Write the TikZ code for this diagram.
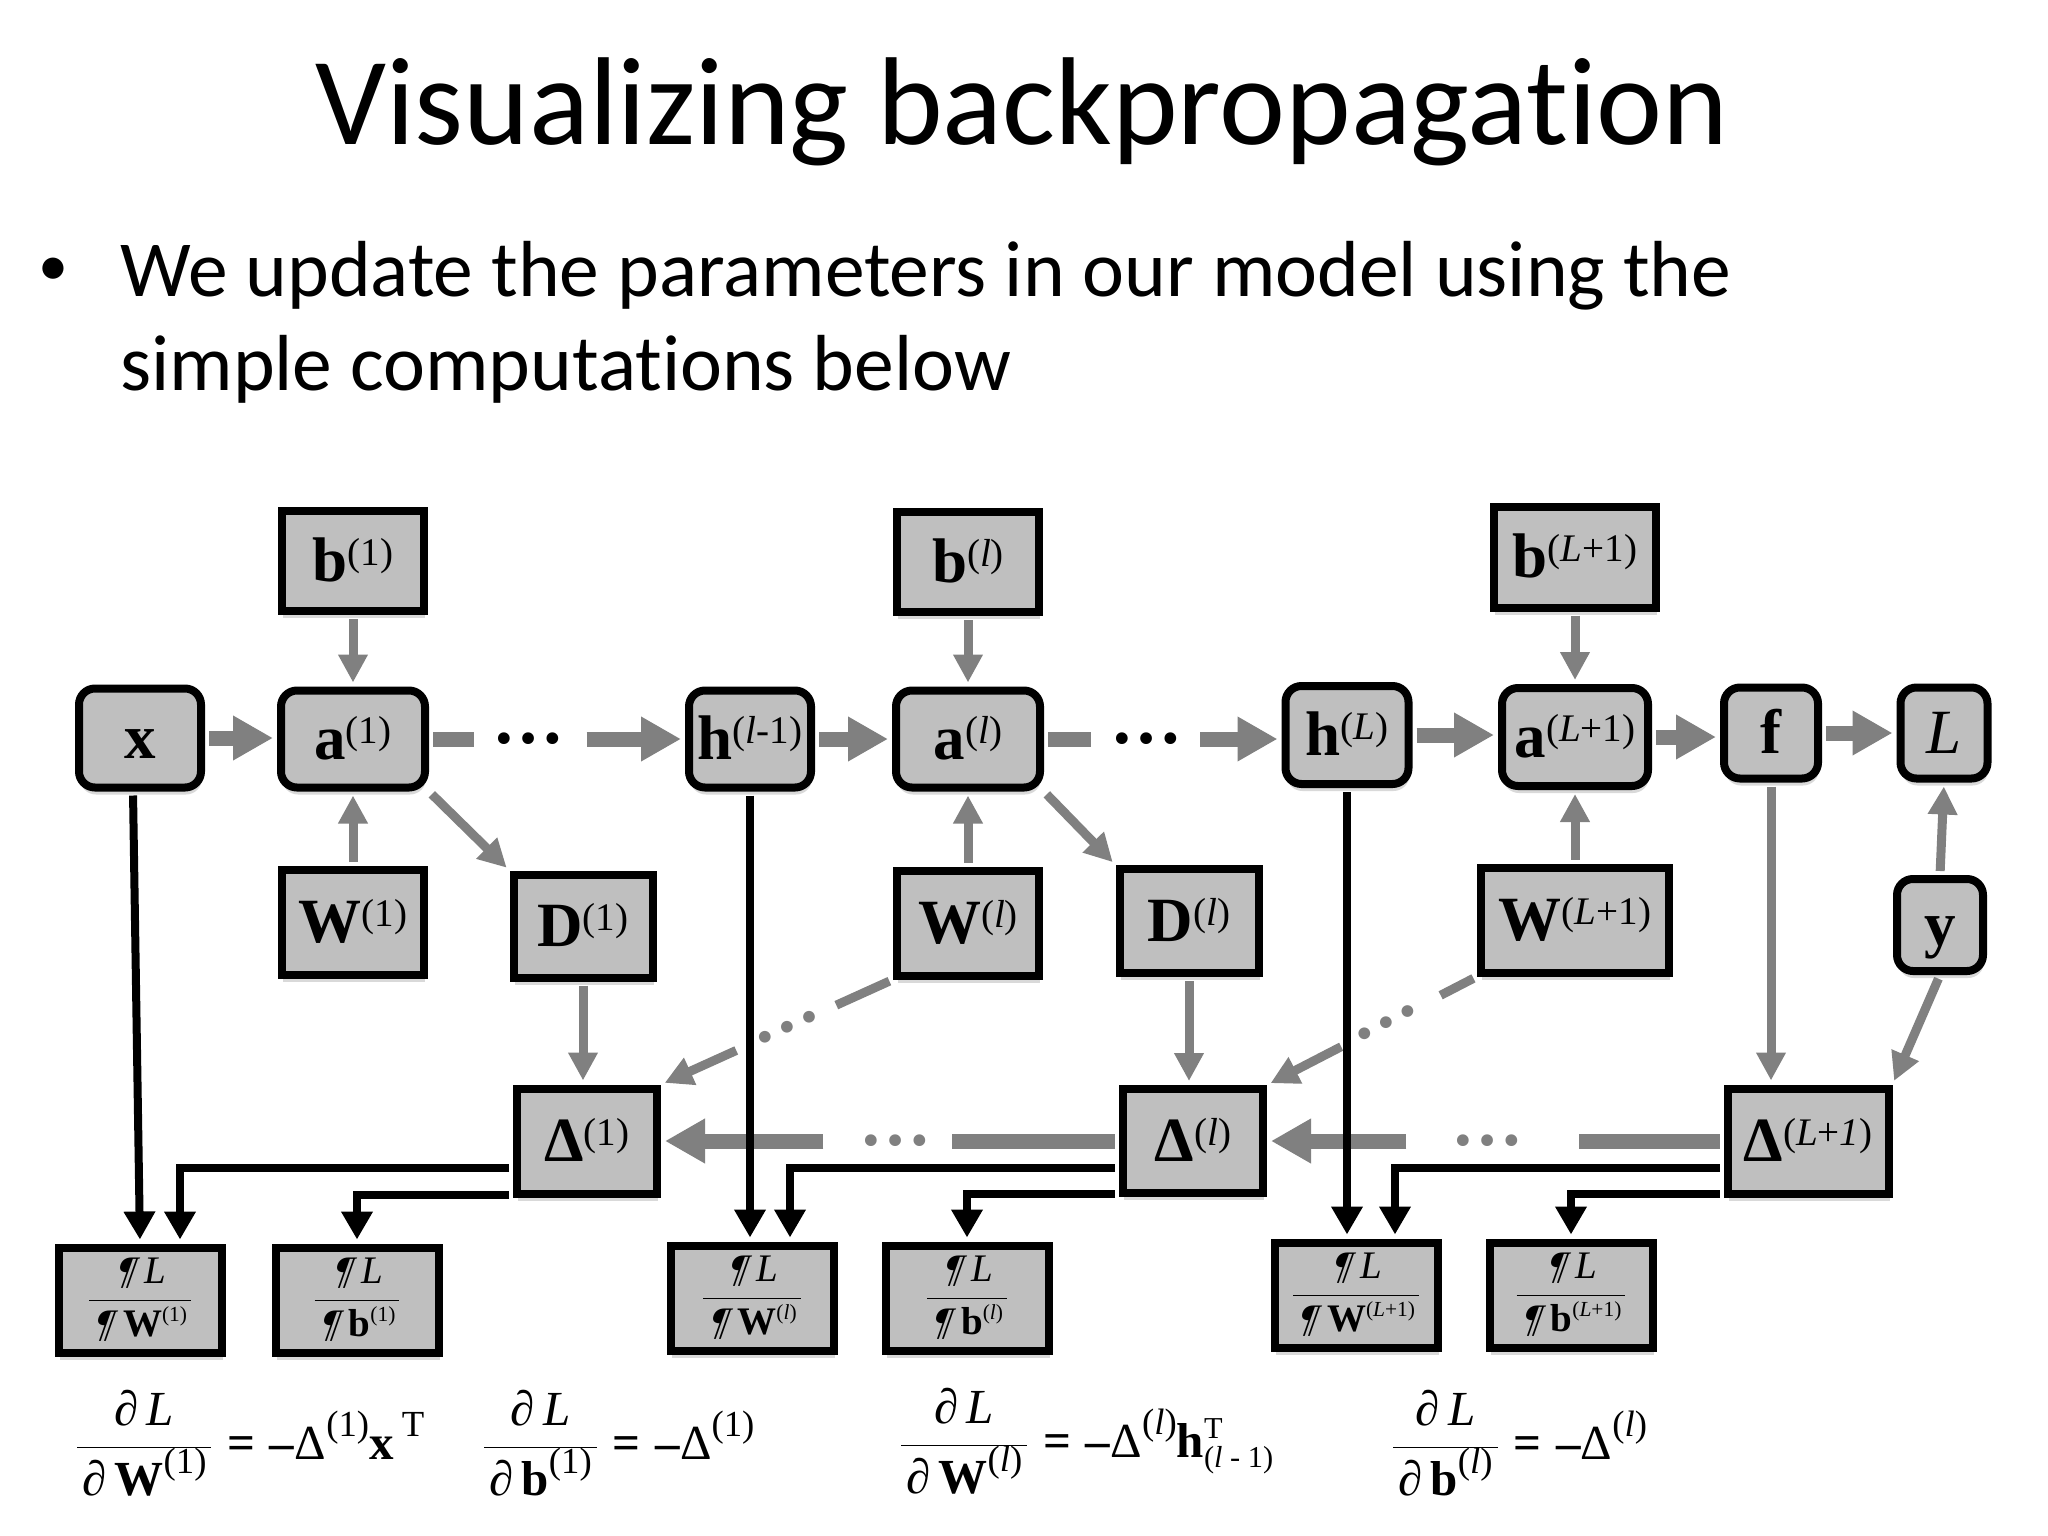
\RequirePackage{fix-cm}
\documentclass[tikz,border=0pt]{standalone}
\usepackage{fontspec}
\setmainfont{Liberation Serif}
\newfontfamily\calfont[Ligatures=NoCommon]{Carlito}
\newfontfamily\slpil[FakeSlant=0.35]{Liberation Serif}
\usetikzlibrary{arrows.meta,shadows,calc}
\definecolor{boxfill}{RGB}{191,191,191}
\definecolor{arrg}{RGB}{128,128,128}
\makeatletter
\newcommand\SupX[3]{\raisebox{#2em}{\fontsize{\strip@pt\dimexpr\f@size pt*#1/100\relax}{0}\selectfont\mdseries\upshape #3}}
\newcommand\SubSup[2]{\rlap{\raisebox{0.37em}{\fontsize{\strip@pt\dimexpr\f@size pt*62/100\relax}{0}\selectfont\mdseries\upshape #1}}\raisebox{-0.21em}{\fontsize{\strip@pt\dimexpr\f@size pt*62/100\relax}{0}\selectfont\mdseries\upshape #2}}
\makeatother
\newcommand\Ns[1]{\SupX{62}{0.25}{#1}}
\newcommand\Es[1]{\SupX{75}{0.45}{#1}}
\newcommand\Gs[1]{\SupX{55}{0.39}{#1}}
\newcommand\Fr[2]{$\displaystyle\frac{\mbox{\hspace{0.1em}#1\hspace{0.1em}}}{\mbox{\hspace{0.1em}#2\hspace{0.1em}}}$}
\newcommand\Pd{{\slpil ¶}\hspace{0.32em}}
\newcommand\lab{\fontsize{63}{63}\selectfont\bfseries}
\newcommand\gfont{\fontsize{39}{39}\selectfont}
\newcommand\efont{\fontsize{49}{49}\selectfont}
\begin{document}
\begin{tikzpicture}[x=1pt,y=-1pt,
 sq/.style={draw=black,line width=8pt,fill=boxfill,inner sep=0pt,font=\lab,text height=40pt,text depth=0pt,
   drop shadow={shadow xshift=1pt,shadow yshift=-7pt,opacity=0.15,fill=black}},
 rd/.style={sq,rounded corners=16pt},
 gr/.style={draw=black,line width=8pt,fill=boxfill,inner sep=0pt,font=\gfont,minimum width=163pt,minimum height=105pt,
   drop shadow={shadow xshift=1pt,shadow yshift=-7pt,opacity=0.15,fill=black}},
 fwd/.style={draw=arrg,line width=15pt,shorten <=4pt,shorten >=4pt},
 fwda/.style={fwd,-{Triangle[width=42pt,length=40pt]}},
 gline/.style={draw=arrg,line width=9pt,shorten <=4pt,shorten >=4pt},
 garr/.style={gline,-{Triangle[width=28pt,length=28pt]}},
 blk/.style={draw=black,line width=8pt,shorten <=4pt,shorten >=4pt,-{Triangle[width=30pt,length=28pt]}},
 bdots/.style={font=\bfseries\fontsize{72}{72}\selectfont,inner sep=0pt},
 gdots/.style={bdots,text=arrg}]
\useasboundingbox (0,0) rectangle (2048,1536);
\fill[white] (0,0) rectangle (2048,1536);

% text
\node[anchor=base,font=\calfont\fontsize{125}{125}\selectfont,inner sep=0pt] (title) at (1022,145) {Visualizing backpropagation};
\node[anchor=base,font=\calfont\fontsize{60}{60}\selectfont,inner sep=0pt] (bul) at (53,285) {•};
\node[anchor=base west,font=\calfont\fontsize{79.5}{79.5}\selectfont,inner sep=0pt] (t1) at (120,296) {We update the parameters in our model using the};
\node[anchor=base west,font=\calfont\fontsize{79.5}{79.5}\selectfont,inner sep=0pt] (t2) at (120,390) {simple computations below};

% nodes
\node[sq,minimum width=142pt,minimum height=100pt] (b1) at (353,561) {b\Ns{(1)}};
\node[sq,minimum width=142pt,minimum height=100pt] (bl) at (968,562) {b\Ns{(\textit{l})}};
\node[sq,minimum width=162pt,minimum height=101pt] (bL) at (1575,557) {b\Ns{(\textit{L}+1)}};
\node[rd,minimum width=122pt,minimum height=99pt] (x) at (140,738) {x};
\node[rd,minimum width=144pt,minimum height=97pt] (a1) at (353,739) {a\Ns{(1)}};
\node[rd,minimum width=122pt,minimum height=97pt] (h1) at (750,739) {h\Ns{(\textit{l}-1)}};
\node[rd,minimum width=144pt,minimum height=97pt] (al) at (968,739) {a\Ns{(\textit{l})}};
\node[rd,minimum width=123pt,minimum height=98pt] (hL) at (1347,735) {h\Ns{(\textit{L})}};
\node[rd,minimum width=146pt,minimum height=98pt] (aL) at (1575,737) {a\Ns{(\textit{L}+1)}};
\node[rd,minimum width=94pt,minimum height=91pt] (f) at (1771,733) {f};
\node[rd,minimum width=87pt,minimum height=91pt] (L) at (1944,733) {\mdseries\itshape L};
\node[sq,minimum width=142pt,minimum height=105pt] (W1) at (353,922) {W\Ns{(1)}};
\node[sq,minimum width=139pt,minimum height=103pt] (d1) at (583,926) {D\Ns{(1)}};
\node[sq,minimum width=142pt,minimum height=105pt] (Wl) at (968,923) {W\Ns{(\textit{l})}};
\node[sq,minimum width=139pt,minimum height=104pt] (dl) at (1189,921) {D\Ns{(\textit{l})}};
\node[sq,minimum width=188pt,minimum height=105pt] (WL) at (1575,920) {W\Ns{(\textit{L}+1)}};
\node[rd,minimum width=86pt,minimum height=92pt] (y) at (1940,925) {y};
\node[sq,minimum width=140pt,minimum height=105pt] (e1) at (587,1141) {Δ\Ns{(1)}};
\node[sq,minimum width=140pt,minimum height=104pt] (el) at (1193,1141) {Δ\Ns{(\textit{l})}};
\node[sq,minimum width=161pt,minimum height=105pt] (eL) at (1808,1141) {Δ\Ns{(\textit{L}+\textit{1})}};

\node[gr] (gW1) at (140,1300) {\Fr{\Pd\textit{L}}{\Pd\textbf{W}\Gs{(1)}}};
\node[gr] (gb1) at (357,1300) {\Fr{\Pd\textit{L}}{\Pd\textbf{b}\Gs{(1)}}};
\node[gr] (gWl) at (752,1298) {\Fr{\Pd\textit{L}}{\Pd\textbf{W}\Gs{(\textit{l})}}};
\node[gr] (gbl) at (967,1298) {\Fr{\Pd\textit{L}}{\Pd\textbf{b}\Gs{(\textit{l})}}};
\node[gr] (gWL) at (1356,1295) {\Fr{\Pd\textit{L}}{\Pd\textbf{W}\Gs{(\textit{L}+1)}}};
\node[gr] (gbL) at (1571,1295) {\Fr{\Pd\textit{L}}{\Pd\textbf{b}\Gs{(\textit{L}+1)}}};

% equations
\node[anchor=base west,font=\efont,inner sep=0pt] (q1) at (76,1459) {\Fr{\textit{∂\,L}}{\textit{∂}\,\textbf{W}\Es{(1)}}\hspace{0.3em}\textbf{=}\hspace{0.3em}\textbf{–}Δ\Es{(1)}\textbf{x}\,\Es{T}};
\node[anchor=base west,font=\efont,inner sep=0pt] (q2) at (483,1459) {\Fr{\textit{∂\,L}}{\textit{∂}\,\textbf{b}\Es{(1)}}\hspace{0.3em}\textbf{=}\hspace{0.3em}\textbf{–}Δ\Es{(1)}};
\node[anchor=base west,font=\efont,inner sep=0pt] (q3) at (900,1457) {\Fr{\textit{∂\,L}}{\textit{∂}\,\textbf{W}\Es{(\textit{l})}}\hspace{0.3em}\textbf{=}\hspace{0.3em}\textbf{–}Δ\Es{(\textit{l})}\textbf{h}\SubSup{T}{(\textit{l} - 1)}};
\node[anchor=base west,font=\efont,inner sep=0pt] (q4) at (1392,1459) {\Fr{\textit{∂\,L}}{\textit{∂}\,\textbf{b}\Es{(\textit{l})}}\hspace{0.3em}\textbf{=}\hspace{0.3em}\textbf{–}Δ\Es{(\textit{l})}};

% forward thick arrows
\draw[fwda] (x.east) -- (x.east -| a1.west);
\draw[fwd] (a1.east) -- ($(a1.east)!0.19!(a1.east -| h1.west)$);
\node[bdots] (dd1) at ($(a1.east)!0.39!(a1.east -| h1.west)$) {…};
\draw[fwda] ($(a1.east)!0.6!(a1.east -| h1.west)$) -- (a1.east -| h1.west);
\draw[fwda] (h1.east) -- (h1.east -| al.west);
\draw[fwd] (al.east) -- ($(al.east)!0.215!(al.east -| hL.west)$);
\node[bdots] (dd2) at ($(al.east)!0.43!(al.east -| hL.west)$) {…};
\draw[fwda] ($(al.east)!0.64!(al.east -| hL.west)$) -- (al.east -| hL.west);
\draw[fwda] (hL.east) -- (hL.east -| aL.west);
\draw[fwda] (aL.east) -- (aL.east -| f.west);
\draw[fwda] (f.east) -- (f.east -| L.west);

% thin gray arrows
\draw[garr] (b1) -- (a1);
\draw[garr] (W1) -- (a1);
\draw[garr] (bl) -- (al);
\draw[garr] (Wl) -- (al);
\draw[garr] (bL) -- (aL);
\draw[garr] (WL) -- (aL);
\draw[garr] (a1.south east) -- (d1.north west);
\draw[garr] (al.south east) -- (dl.north west);
\draw[garr] (d1.south) -- (d1.south |- e1.north);
\draw[garr] (dl.south) -- (dl.south |- el.north);
\draw[garr] (f.south) -- (f.south |- eL.north);
\draw[garr] (y.north) -- (L.south);
\draw[garr] (y.south) -- (eL.north east);

% dotted diagonals
\draw[gline] (Wl.south west) -- ($(Wl.south west)!0.26!(e1.north east)$);
\path (Wl.south west) -- (e1.north east) node[gdots,pos=0.455,sloped] (gd1) {…};
\draw[garr] ($(Wl.south west)!0.66!(e1.north east)$) -- (e1.north east);
\draw[gline] (WL.south west) -- ($(WL.south west)!0.19!(el.north east)$);
\path (WL.south west) -- (el.north east) node[gdots,pos=0.43,sloped] (gd2) {…};
\draw[garr] ($(WL.south west)!0.63!(el.north east)$) -- (el.north east);

% backward thick arrows
\draw[fwd] (eL.west) -- ($(eL.west)!0.326!(el.east)$);
\node[gdots] (gd3) at ($(eL.west)!0.516!(el.east)$) {…};
\draw[fwda] ($(eL.west)!0.686!(el.east)$) -- (el.east);
\draw[fwd] (el.west) -- ($(el.west)!0.373!(e1.east)$);
\node[gdots] (gd4) at ($(el.west)!0.489!(e1.east)$) {…};
\draw[fwda] ($(el.west)!0.637!(e1.east)$) -- (e1.east);

% black arrows
\draw[blk] ([xshift=-7pt]x.south) -- (gW1.north);
\draw[blk] ([yshift=-27pt]e1.west) -| ([xshift=40pt]gW1.north);
\draw[blk] ([yshift=-54pt]e1.west) -| (gb1.north);
\draw[blk] (h1.south) -- (h1.south |- gWl.north);
\draw[blk] ([yshift=-27pt]el.west) -| ([xshift=38pt]gWl.north);
\draw[blk] ([yshift=-53pt]el.west) -| (gbl.north);
\draw[blk] (hL.south) -- (hL.south |- gWL.north);
\draw[blk] ([yshift=-27pt]eL.west) -| ([xshift=39pt]gWL.north);
\draw[blk] ([yshift=-53pt]eL.west) -| (gbL.north);
\end{tikzpicture}
\end{document}
